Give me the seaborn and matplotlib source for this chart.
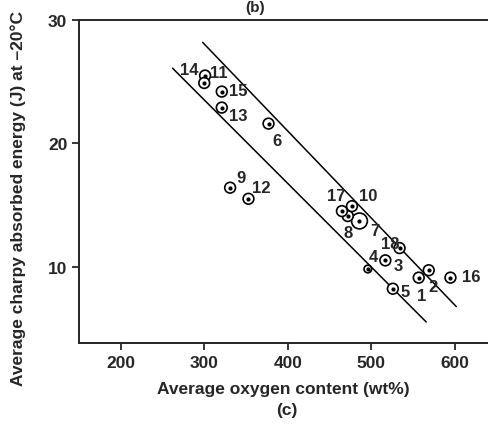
import numpy as np
import pandas as pd
import matplotlib
matplotlib.use('Agg')
import matplotlib.pyplot as plt
import seaborn as sns

# sample data
sample_ids = ['1', '2', '3', '4', '5', '6', '7', '8', '9', '10',
              '11', '12', '13', '14', '15', '16', '17', '18']
oxygen = [557, 569, 517, 496, 526, 377, 486, 472, 331, 477,
          301, 353, 321, 300, 321, 595, 465, 534]
energy = [9.1, 9.7, 10.5, 9.8, 8.2, 21.6, 13.7, 14.1, 16.4, 14.9,
          25.5, 15.5, 22.9, 24.9, 24.2, 9.1, 14.5, 11.5]
marker_size = [60, 60, 60, 30, 60, 60, 130, 60, 60, 60,
               60, 60, 60, 60, 60, 60, 60, 60]
# label offsets (points) relative to the marker
label_dx = [2, 3, 9, 4, 9, 6, 11, 0, 8, 12, 10, 9, 12, -11, 12, 15, -4, -7]
label_dy = [-13, -12, -4, 9, -2, -12, -7, -12, 7, 8, 2, 8, -6, 10, 1, 1, 11, 3]

# scatter band boundaries (oxygen, energy)
upper_x = [298, 602]
upper_y = [28.2, 6.75]
lower_x = [262, 566]
lower_y = [26.1, 5.5]

df = pd.DataFrame({'oxygen': oxygen, 'energy': energy, 'size': marker_size, 'id': sample_ids})

sns.set_style('ticks')
plt.rcParams['font.family'] = ['Liberation Sans', 'DejaVu Sans']
plt.rcParams['font.weight'] = 'bold'

fig = plt.figure(figsize=(4.88, 4.31), dpi=100)
ax = fig.add_axes([0.162, 0.202, 0.838, 0.749])

ax.plot(upper_x, upper_y, color='black', lw=1.1)
ax.plot(lower_x, lower_y, color='black', lw=1.1)

sns.scatterplot(data=df, x='oxygen', y='energy', size='size', sizes=(30, 130),
                facecolor='white', edgecolor='black', linewidth=1.2,
                legend=False, ax=ax, zorder=3)
ax.scatter(df['oxygen'], df['energy'], s=4, color='black', zorder=4)

for i, row in df.iterrows():
    ax.annotate(row['id'], (row['oxygen'], row['energy']),
                xytext=(label_dx[i], label_dy[i]), textcoords='offset points',
                ha='center', va='center', fontsize=12, fontweight='bold')

ax.set_xlim(150, 640)
ax.set_ylim(3.8, 30)
ax.set_xticks([200, 300, 400, 500, 600])
ax.set_yticks([10, 20, 30])
ax.tick_params(axis='both', labelsize=12.5, length=5, width=1.3, direction='out')
for lab in ax.get_xticklabels() + ax.get_yticklabels():
    lab.set_fontweight('bold')
for side in ['left', 'bottom', 'top']:
    ax.spines[side].set_linewidth(1.4)
ax.spines['right'].set_visible(False)

ax.set_xlabel('Average oxygen content (wt%)', fontsize=12.5, fontweight='bold', labelpad=8)
ax.set_ylabel('Average charpy absorbed energy (J) at \u201320\u00b0C', fontsize=12.5,
              fontweight='bold', labelpad=6)
ax.yaxis.set_label_coords(-0.13, 0.45)

fig.text(0.588, 0.048, '(c)', ha='center', va='center', fontsize=12.5, fontweight='bold')
fig.text(0.523, 0.998, '(b)', ha='center', va='top', fontsize=11, fontweight='bold')

fig.savefig('out.png', dpi=100)
